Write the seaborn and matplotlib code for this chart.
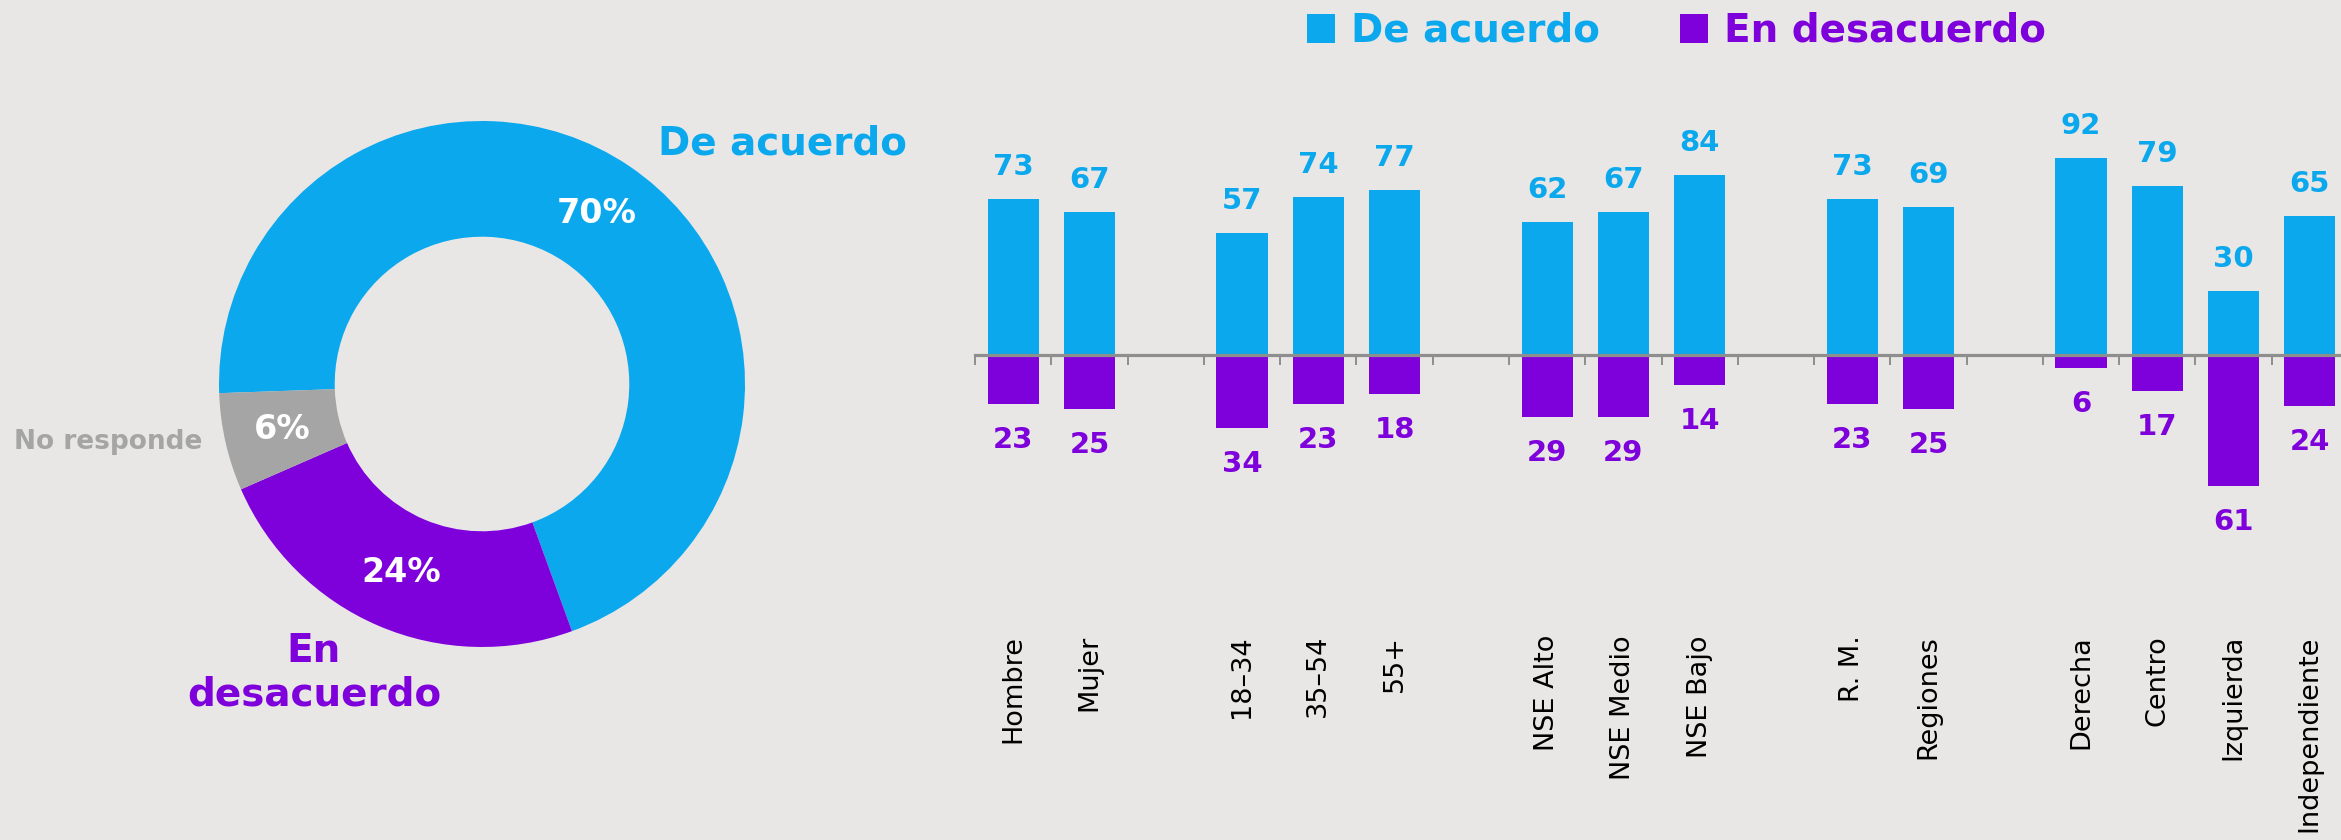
import numpy as np
import pandas as pd
import matplotlib
matplotlib.use("Agg")
import matplotlib.pyplot as plt
import matplotlib.ticker as mticker
from matplotlib.patches import Patch
import seaborn as sns

# ---------------- data ----------------
donut_labels = ["De acuerdo", "En desacuerdo", "No responde"]
donut_values = [70, 24, 6]

group_cats = [
    ["Hombre", "Mujer"],
    ["18–34", "35–54", "55+"],
    ["NSE Alto", "NSE Medio", "NSE Bajo"],
    ["R. M.", "Regiones"],
    ["Derecha", "Centro", "Izquierda", "Independiente"],
]
acuerdo = [73, 67, 57, 74, 77, 62, 67, 84, 73, 69, 92, 79, 30, 65]
desacuerdo = [23, 25, 34, 23, 18, 29, 29, 14, 23, 25, 6, 17, 61, 24]

# ---------------- style ----------------
BG = "#E8E7E5"
BLUE = "#0BA8EE"
PURPLE = "#7E00DB"
GREY = "#A5A5A5"
AXIS = "#8E8E8E"

sns.set_theme(style="white")
plt.rcParams["font.family"] = ["DejaVu Sans"]

fig = plt.figure(figsize=(23.41, 8.4), dpi=100, facecolor=BG)

# ---------------- donut ----------------
axd = fig.add_axes([219 / 2341, 1 - 647 / 840, 526 / 2341, 526 / 840])
axd.set_facecolor(BG)
wedges, texts, autotexts = axd.pie(
    donut_values,
    colors=[BLUE, PURPLE, GREY],
    startangle=182,
    counterclock=False,
    radius=1.0,
    wedgeprops=dict(width=0.44, linewidth=0),
    autopct=lambda p: f"{p:.0f}%",
    pctdistance=0.78,
    textprops=dict(color="white", fontsize=24, fontweight="bold"),
)
axd.set_xlim(-1, 1)
axd.set_ylim(-1, 1)
axd.set_aspect("equal")
axd.axis("off")
axd.text(1.144, 0.916, donut_labels[0], color=BLUE, fontsize=28, fontweight="bold",
         ha="center", va="center", clip_on=False)
axd.text(-1.422, -0.22, donut_labels[2], color=GREY, fontsize=19, fontweight="bold",
         ha="center", va="center", clip_on=False)
axd.text(-0.639, -1.097, "En\ndesacuerdo", color=PURPLE, fontsize=28, fontweight="bold",
         ha="center", va="center", multialignment="center", clip_on=False)

# ---------------- bars ----------------
order, vals_a, vals_d, real = [], [], [], []
k = 0
for gi, grp in enumerate(group_cats):
    if gi > 0:
        order.append(" " * gi)
        vals_a.append(np.nan)
        vals_d.append(np.nan)
        real.append(False)
    for c in grp:
        order.append(c)
        vals_a.append(acuerdo[k])
        vals_d.append(-desacuerdo[k])
        real.append(True)
        k += 1

df = pd.DataFrame({"cat": order, "acuerdo": vals_a, "desacuerdo": vals_d})

axb = fig.add_axes([975 / 2341, 1 - 526.2 / 840, 1373 / 2341, (526.2 - 130.3) / 840])
axb.set_facecolor(BG)
axb.patch.set_alpha(0)
sns.barplot(data=df, x="cat", y="acuerdo", order=order, color=BLUE, width=0.67,
            errorbar=None, linewidth=0, saturation=1, ax=axb)
sns.barplot(data=df, x="cat", y="desacuerdo", order=order, color=PURPLE, width=0.67,
            errorbar=None, linewidth=0, saturation=1, ax=axb)

for i, (a, d, r) in enumerate(zip(vals_a, vals_d, real)):
    if not r:
        continue
    axb.annotate(f"{a:.0f}", xy=(i, a), xytext=(0, 23), textcoords="offset points",
                 ha="center", va="center", color=BLUE, fontsize=21, fontweight="bold")
    axb.annotate(f"{-d:.0f}", xy=(i, d), xytext=(0, -26), textcoords="offset points",
                 ha="center", va="center", color=PURPLE, fontsize=21, fontweight="bold")

axb.set_xlim(-0.5, len(order) - 0.5)
axb.set_ylim(-80, 105)
axb.set_xlabel("")
axb.set_ylabel("")
axb.set_yticks([])
for s in ["top", "right", "left"]:
    axb.spines[s].set_visible(False)
axb.spines["bottom"].set_position(("data", 0))
axb.spines["bottom"].set_color(AXIS)
axb.spines["bottom"].set_linewidth(2.3)
axb.spines["bottom"].set_zorder(5)
axb.set_xticks(range(len(order)))
axb.set_xticklabels(order, rotation=90, fontsize=19.5, color="black")
axb.xaxis.set_minor_locator(mticker.FixedLocator(np.arange(-0.5, len(order), 1.0)))
axb.tick_params(axis="x", which="both", bottom=True)
axb.tick_params(axis="x", which="major", length=0, pad=201.6)
axb.tick_params(axis="x", which="minor", length=7.2, width=1.4, color=AXIS, direction="out")

# ---------------- legend ----------------
handles = [Patch(facecolor=BLUE, edgecolor="none"), Patch(facecolor=PURPLE, edgecolor="none")]
leg = fig.legend(handles, ["De acuerdo", "En desacuerdo"], loc="center",
                 bbox_to_anchor=(1676 / 2341, 1 - 31 / 840), ncol=2, frameon=False,
                 borderpad=0, handlelength=0.72, handleheight=0.75, handletextpad=0.41,
                 columnspacing=2.06, prop=dict(size=28, weight="bold"))
for t, c in zip(leg.get_texts(), [BLUE, PURPLE]):
    t.set_color(c)

fig.savefig("out.png", dpi=100, facecolor=BG)
